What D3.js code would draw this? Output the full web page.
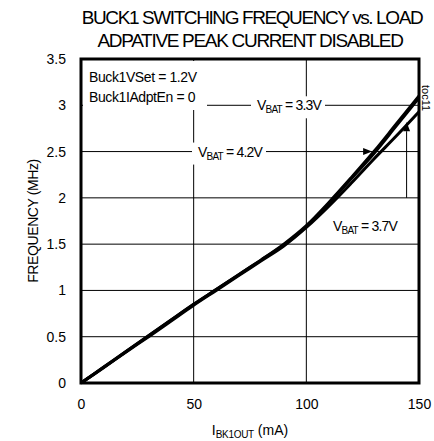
<!DOCTYPE html>
<html lang="en">
<head>
  <meta charset="UTF-8">
  <title>Buck1 switching frequency vs load</title>
  <style>
    body {
      margin: 0;
      background: #fff;
    }
    svg text {
      font-family: "Liberation Sans", Arial, sans-serif;
      fill: #000;
    }
  </style>
</head>
<body>
  <script src="https://d3js.org/d3.v7.min.js"></script>
  <script>
    // data (MHz vs mA)
    const loadMA = [0, 10, 20, 30, 40, 50, 60, 70, 80, 90, 100, 110, 120, 130, 140, 150]
    const fVbat33 = [0, 0.17, 0.34, 0.51, 0.68, 0.85, 1.01, 1.17, 1.33, 1.50, 1.70, 1.95, 2.22, 2.50, 2.80, 3.10]
    const fVbat42 = [0, 0.17, 0.34, 0.51, 0.68, 0.85, 1.01, 1.17, 1.33, 1.49, 1.69, 1.94, 2.21, 2.48, 2.78, 3.08]
    const fVbat37 = [0, 0.165, 0.335, 0.50, 0.67, 0.84, 1.00, 1.16, 1.32, 1.48, 1.68, 1.91, 2.16, 2.42, 2.67, 2.93]
    const xTicks = [0, 50, 100, 150]
    const yTicks = [0, 0.5, 1, 1.5, 2, 2.5, 3, 3.5]

    let width = 434
    let height = 441
    let m = { left: 81, right: 15, top: 59, bottom: 58 }

    let svg = d3.select('body').append('svg')
      .attr('width', width)
      .attr('height', height)

    let x = d3.scaleLinear().domain([0, 150]).range([m.left, width - m.right])
    let y = d3.scaleLinear().domain([0, 3.5]).range([height - m.bottom, m.top])

    // title (condensed look via negative letter spacing)
    let title = svg.append('g').attr('font-size', 19).attr('text-anchor', 'middle')
    title.append('text')
      .attr('x', 252).attr('y', 24)
      .attr('letter-spacing', -1.4)
      .text('BUCK1 SWITCHING FREQUENCY vs. LOAD')
    title.append('text')
      .attr('x', 250).attr('y', 47)
      .attr('letter-spacing', -1.3)
      .text('ADPATIVE PEAK CURRENT DISABLED')

    // grid
    svg.append('g')
      .selectAll('line')
      .data(yTicks.slice(1, -1))
      .join('line')
      .attr('x1', x(0)).attr('x2', x(150))
      .attr('y1', d => y(d)).attr('y2', d => y(d))
      .attr('stroke', '#000').attr('stroke-width', 1)
    svg.append('g')
      .selectAll('line')
      .data(xTicks.slice(1, -1))
      .join('line')
      .attr('x1', d => x(d)).attr('x2', d => x(d))
      .attr('y1', y(0)).attr('y2', y(3.5))
      .attr('stroke', '#000').attr('stroke-width', 1)

    // axes tick labels
    svg.append('g')
      .attr('transform', `translate(0, ${y(0)})`)
      .call(d3.axisBottom(x).tickValues(xTicks).tickSize(0).tickPadding(16).tickFormat(d3.format('d')))
      .call(g => g.select('.domain').remove())
      .call(g => g.selectAll('text').attr('font-size', 14).attr('font-family', '"Liberation Sans", Arial, sans-serif'))
    svg.append('g')
      .attr('transform', `translate(${x(0)}, 0)`)
      .call(d3.axisLeft(y).tickValues(yTicks).tickSize(0).tickPadding(15).tickFormat(d => d))
      .call(g => g.select('.domain').remove())
      .call(g => g.selectAll('text').attr('font-size', 14).attr('font-family', '"Liberation Sans", Arial, sans-serif'))

    // axis titles
    svg.append('text')
      .attr('transform', `translate(38, ${(y(0) + y(3.5)) / 2}) rotate(-90)`)
      .attr('text-anchor', 'middle')
      .attr('font-size', 14)
      .attr('letter-spacing', -0.4)
      .text('FREQUENCY (MHz)')

    let xl = svg.append('text')
      .attr('x', 250).attr('y', 435)
      .attr('text-anchor', 'middle')
      .attr('font-size', 14)
    xl.append('tspan').text('I')
    xl.append('tspan').attr('font-size', 10).attr('dy', 3).attr('letter-spacing', -0.3).text('BK1OUT')
    xl.append('tspan').attr('dy', -3).text(' (mA)')

    // V_BAT labels sit on white boxes (they cover grid lines)
    function vbatLabel(px, py, val) {
      let g = svg.append('g')
      g.append('rect')
        .attr('x', px - 6).attr('y', py - 14)
        .attr('width', 74).attr('height', 22)
        .attr('fill', '#fff')
      let t = g.append('text')
        .attr('x', px).attr('y', py)
        .attr('font-size', 14)
        .attr('letter-spacing', -0.8)
      t.append('tspan').text('V')
      t.append('tspan').attr('font-size', 10).attr('dy', 3).text('BAT')
      t.append('tspan').attr('dy', -3).text(' = ' + val + 'V')
      return g
    }

    // settings box in the corner
    svg.append('rect')
      .attr('x', x(0) + 2).attr('y', y(3.5) + 2)
      .attr('width', 124).attr('height', 49)
      .attr('fill', '#fff')
    let note = svg.append('g').attr('font-size', 14).attr('letter-spacing', -0.4)
    note.append('text').attr('x', 89).attr('y', 82).text('Buck1VSet = 1.2V')
    note.append('text').attr('x', 89).attr('y', 102).text('Buck1IAdptEn = 0')

    vbatLabel(257, y(3) + 5, '3.3')
    vbatLabel(198, y(2.5) + 5, '4.2')
    vbatLabel(333, y(1.7) + 5, '3.7')

    // leader for 3.7V: vertical line with arrow up to the curve
    let ax = x(144.5)
    svg.append('line')
      .attr('x1', ax).attr('x2', ax)
      .attr('y1', y(2)).attr('y2', y(2.72))
      .attr('stroke', '#000').attr('stroke-width', 1)
    svg.append('path')
      .attr('d', `M${ax},${y(2.82)} L${ax - 3.5},${y(2.72)} L${ax + 3.5},${y(2.72)} Z`)
      .attr('fill', '#000')
    // arrow for 4.2V along the 2.5 grid line
    let bx = x(129.2)
    svg.append('path')
      .attr('d', `M${bx},${y(2.5)} L${bx - 9},${y(2.5) - 3.5} L${bx - 9},${y(2.5) + 3.5} Z`)
      .attr('fill', '#000')

    // curves
    let line = d3.line()
      .x((d, i) => x(loadMA[i]))
      .y(d => y(d))
      .curve(d3.curveCatmullRom)

    svg.append('g')
      .selectAll('path')
      .data([fVbat37, fVbat42, fVbat33])
      .join('path')
      .attr('d', line)
      .attr('fill', 'none')
      .attr('stroke', '#000')
      .attr('stroke-width', 3)

    // frame
    svg.append('rect')
      .attr('x', x(0)).attr('y', y(3.5))
      .attr('width', x(150) - x(0)).attr('height', y(0) - y(3.5))
      .attr('fill', 'none')
      .attr('stroke', '#000')
      .attr('stroke-width', 3)

    // figure tag
    svg.append('text')
      .attr('transform', `translate(422, 85) rotate(90)`)
      .attr('font-size', 11)
      .text('toc11')
  </script>
</body>
</html>
